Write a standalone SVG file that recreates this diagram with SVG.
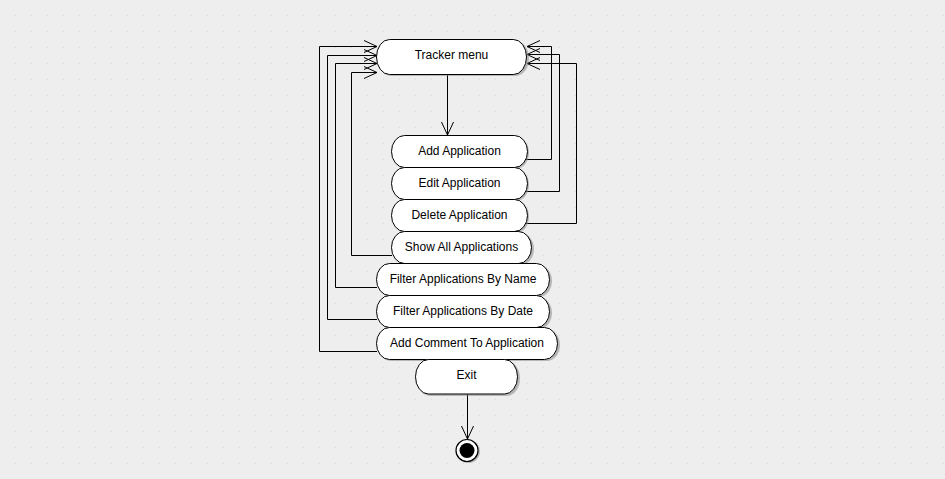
<svg xmlns="http://www.w3.org/2000/svg" width="945" height="479" viewBox="0 0 945 479">
<style>
.bg{fill:#eeeeee}
.node{fill:#ffffff;stroke:#000000;stroke-width:1}
.shadow{fill:#8a8a8a;opacity:0.55}
.label{font-family:"Liberation Sans",Arial,sans-serif;font-size:12px;fill:#000000;text-anchor:middle}
.conn{fill:none;stroke:#000000;stroke-width:1}
</style>
<defs>
<pattern id="dots" width="16" height="16" patternUnits="userSpaceOnUse">
<rect x="15" y="15" width="2" height="2" fill="#dadada"/>
</pattern>
<marker id="arrow" markerUnits="userSpaceOnUse" markerWidth="16" markerHeight="16" viewBox="-14 -8 16 16" refX="0" refY="0" orient="auto" overflow="visible">
<path d="M-13,-6 L0,0 L-13,6" fill="none" stroke="#000000" stroke-width="1"/>
</marker>
</defs>
<rect class="bg" x="0" y="0" width="945" height="479"/>
<rect x="0" y="0" width="945" height="479" fill="url(#dots)"/>

<g id="connectors">
<path class="conn" d="M447.5,74 L447.5,135" marker-end="url(#arrow)"/>
<path class="conn" d="M526,159.5 L551.5,159.5 L551.5,46.5 L527,46.5" marker-end="url(#arrow)"/>
<path class="conn" d="M526,191.5 L559.5,191.5 L559.5,54.5 L527,54.5" marker-end="url(#arrow)"/>
<path class="conn" d="M526,223.5 L576.5,223.5 L576.5,63.5 L527,63.5" marker-end="url(#arrow)"/>
<path class="conn" d="M392,255.5 L351.5,255.5 L351.5,72.5 L377,72.5" marker-end="url(#arrow)"/>
<path class="conn" d="M377,287.5 L335.5,287.5 L335.5,63.5 L377,63.5" marker-end="url(#arrow)"/>
<path class="conn" d="M377,319.5 L327.5,319.5 L327.5,55.5 L377,55.5" marker-end="url(#arrow)"/>
<path class="conn" d="M377,351.5 L319.5,351.5 L319.5,46.5 L377,46.5" marker-end="url(#arrow)"/>
<path class="conn" d="M467.5,394 L467.5,439" marker-end="url(#arrow)"/>
</g>

<g id="tracker-menu">
<rect class="shadow" x="378" y="41" width="151" height="35" rx="13" ry="17.5"/>
<rect class="node" x="376.5" y="39.5" width="150" height="35" rx="13" ry="17.5"/>
<text class="label" x="451.5" y="59">Tracker menu</text>
</g>

<g id="add-application">
<rect class="shadow" x="393" y="137" width="136" height="32" rx="13" ry="16"/>
<rect class="node" x="391.5" y="135.5" width="136" height="32" rx="13" ry="16"/>
<text class="label" x="459.5" y="155">Add Application</text>
</g>

<g id="edit-application">
<rect class="shadow" x="393" y="169" width="136" height="32" rx="13" ry="16"/>
<rect class="node" x="391.5" y="167.5" width="136" height="32" rx="13" ry="16"/>
<text class="label" x="459.5" y="187">Edit Application</text>
</g>

<g id="delete-application">
<rect class="shadow" x="393" y="201" width="136" height="32" rx="13" ry="16"/>
<rect class="node" x="391.5" y="199.5" width="136" height="32" rx="13" ry="16"/>
<text class="label" x="459.5" y="219">Delete Application</text>
</g>

<g id="show-all-applications">
<rect class="shadow" x="393" y="233" width="141" height="32" rx="13" ry="16"/>
<rect class="node" x="391.5" y="231.5" width="140" height="32" rx="13" ry="16"/>
<text class="label" x="461.5" y="251">Show All Applications</text>
</g>

<g id="filter-by-name">
<rect class="shadow" x="378" y="265" width="174" height="32" rx="13" ry="16"/>
<rect class="node" x="376.5" y="263.5" width="173" height="32" rx="13" ry="16"/>
<text class="label" x="463" y="283">Filter Applications By Name</text>
</g>

<g id="filter-by-date">
<rect class="shadow" x="378" y="297" width="174" height="32" rx="13" ry="16"/>
<rect class="node" x="376.5" y="295.5" width="173" height="32" rx="13" ry="16"/>
<text class="label" x="463" y="315">Filter Applications By Date</text>
</g>

<g id="add-comment">
<rect class="shadow" x="378" y="329" width="182" height="32" rx="13" ry="16"/>
<rect class="node" x="376.5" y="327.5" width="181" height="32" rx="13" ry="16"/>
<text class="label" x="467" y="347">Add Comment To Application</text>
</g>

<g id="exit">
<rect class="shadow" x="417" y="361" width="103" height="35" rx="13" ry="17.5"/>
<rect class="node" x="415.5" y="359.5" width="102" height="34.5" rx="13" ry="17.5"/>
<text class="label" x="466.5" y="379">Exit</text>
</g>

<g id="final-state">
<circle cx="468.5" cy="451.5" r="11.5" fill="#8a8a8a" opacity="0.55"/>
<circle cx="467" cy="450.5" r="11" fill="#ffffff" stroke="#000000" stroke-width="1.2"/>
<circle cx="467" cy="450.5" r="7.5" fill="#000000"/>
</g>
</svg>
